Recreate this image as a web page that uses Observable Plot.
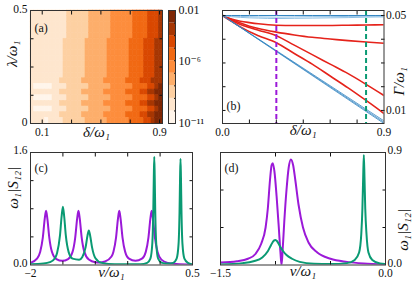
<!DOCTYPE html>
<html><head><meta charset="utf-8">
<script src="https://cdn.jsdelivr.net/npm/d3@7"></script>
<script src="https://cdn.jsdelivr.net/npm/@observablehq/plot@0.6"></script>
<style>
body{margin:0;background:#fff}
#fig{position:relative;width:415px;height:291px;overflow:hidden;background:#fff}
#fig svg{position:absolute;left:0;top:0}
</style></head><body><div id="fig"></div><script>
// ---------- DATA ----------
// (a) heatmap: level index per cell (0 = lightest), rows from lambda=0.5 (top) down to 0
const heatDeltaRange = [0.02, 0.92];
const heatLambdaRange = [0, 0.5];
const heatRows = [
"111111111122222233333344444455556667",
"111111111122222233333344444455556667",
"111111111122222233333344444455556667",
"111111111122222233333344444455556667",
"111111111122222233333344444455556667",
"111111111222222333333444444555566677",
"111111111222222333333444444555566677",
"111111111222222333333444444555566677",
"111111111222222333333444444555566677",
"111111111222222333333444444555566677",
"111111111222222333333444444555566677",
"111111111222222333333444444555566677",
"111111112222223333334444445555666777",
"100000111122222233333344444455556678",
"111111112222223333334444445555667788",
"100000111122222233333344444455556678",
"111111112222223333334444445555667788",
"100000111122222233333344444455556678",
"111111112222223333334444445555667788",
"111101111222222333333444444555566788"
];
const levelColors = ["#fff5eb","#fee6ce","#fdd0a2","#fdae6b","#fd8d3c","#f16913","#d94801","#a63603","#7f2704"];
const levelExponents = [-11,-10,-9,-8,-7,-6,-5,-4,-3]; // lower edge of each level band
const cbarLabels = [{v:1e-2,t:"0.01"},{v:1e-6,t:"10⁻⁶"},{v:1e-11,t:"10⁻¹¹"}];

// (b) decay rates
const bDelta = [0,0.05,0.1,0.15,0.2,0.3,0.4,0.5,0.6,0.7,0.8,0.9];
const bRed1 = [0.05,0.0485,0.0476,0.047,0.0465,0.0459,0.0458,0.0458,0.0458,0.0459,0.046,0.0461];
const bRed2 = [0.05,0.0483,0.0468,0.0455,0.0445,0.043,0.0418,0.0408,0.0401,0.0394,0.0388,0.0383];
const bRed3 = [0.05,0.048,0.0462,0.0449,0.0438,0.0415,0.0375,0.0335,0.0295,0.0255,0.021,0.0163];
const bRed4 = [0.05,0.0475,0.0452,0.0432,0.0415,0.0385,0.034,0.0295,0.0245,0.0195,0.0142,0.0087];
const bBlueTop1 = [0.05,0.05,0.05,0.05,0.05,0.05,0.05,0.05,0.05,0.05,0.05,0.05];
const bBlueTop2 = [0.05,0.0495,0.0492,0.049,0.0489,0.0487,0.0488,0.0489,0.049,0.0491,0.0493,0.0494];
const bBlueTop3 = [0.05,0.0497,0.0496,0.0495,0.0494,0.0493,0.0494,0.0495,0.0495,0.0496,0.0497,0.0497];
const bBlueDiagEnds = [[0.05,0.0045],[0.05,0.0050],[0.05,0.0056]];
const bMarkers = [{x:0.3,c:"#9b19d8"},{x:0.8,c:"#0a9a73"}];

// (c) spectra
const cPurple = [[-2.0,0.03],[-1.9,0.09],[-1.85,0.19],[-1.81,0.39],[-1.78,0.66],[-1.76,0.77],[-1.74,0.66],[-1.71,0.39],[-1.67,0.19],[-1.6,0.085],[-1.51,0.06],[-1.42,0.085],[-1.35,0.19],[-1.31,0.39],[-1.28,0.66],[-1.26,0.77],[-1.24,0.66],[-1.21,0.39],[-1.17,0.19],[-1.1,0.077],[-1.0,0.04],[-0.94,0.037],[-0.85,0.05],[-0.75,0.12],[-0.72,0.19],[-0.68,0.39],[-0.65,0.66],[-0.63,0.77],[-0.61,0.66],[-0.58,0.39],[-0.54,0.19],[-0.48,0.09],[-0.38,0.06],[-0.28,0.09],[-0.22,0.19],[-0.18,0.39],[-0.15,0.66],[-0.13,0.77],[-0.11,0.66],[-0.08,0.39],[-0.04,0.19],[0.02,0.076],[0.12,0.029],[0.25,0.013],[0.5,0.005]];
const cGreen = [[-2.0,0.01],[-1.8,0.02],[-1.7,0.04],[-1.62,0.1],[-1.59,0.17],[-1.545,0.42],[-1.52,0.69],[-1.5,0.83],[-1.48,0.69],[-1.455,0.42],[-1.41,0.18],[-1.35,0.09],[-1.25,0.075],[-1.2,0.115],[-1.15,0.25],[-1.12,0.42],[-1.1,0.49],[-1.08,0.42],[-1.05,0.25],[-1.0,0.1],[-0.9,0.03],[-0.7,0.01],[-0.5,0.01],[-0.3,0.01],[-0.2,0.03],[-0.15,0.09],[-0.12,0.31],[-0.105,0.77],[-0.097,1.26],[-0.09,1.54],[-0.083,1.26],[-0.075,0.77],[-0.06,0.31],[-0.03,0.09],[0.03,0.03],[0.12,0.02],[0.2,0.03],[0.255,0.09],[0.285,0.3],[0.3,0.76],[0.308,1.24],[0.315,1.51],[0.322,1.24],[0.33,0.76],[0.345,0.3],[0.375,0.09],[0.43,0.03],[0.5,0.01]];

// (d) spectra
const dPurple = [[-1.5,0.02],[-1.35,0.03],[-1.25,0.05],[-1.18,0.09],[-1.13,0.17],[-1.09,0.3],[-1.07,0.45],[-1.05,0.68],[-1.035,0.8],[-1.025,0.815],[-1.01,0.75],[-0.99,0.55],[-0.97,0.3],[-0.955,0.1],[-0.945,0.0],[-0.935,0.12],[-0.92,0.35],[-0.9,0.6],[-0.88,0.78],[-0.86,0.845],[-0.84,0.8],[-0.82,0.68],[-0.79,0.48],[-0.75,0.3],[-0.7,0.18],[-0.62,0.1],[-0.5,0.05],[-0.35,0.025],[-0.2,0.012],[0,0.005]];
const dGreen = [[-1.5,0.005],[-1.3,0.015],[-1.2,0.03],[-1.12,0.06],[-1.07,0.11],[-1.04,0.16],[-1.015,0.195],[-1.0,0.2],[-0.985,0.19],[-0.96,0.15],[-0.93,0.11],[-0.9,0.08],[-0.85,0.05],[-0.78,0.025],[-0.65,0.01],[-0.5,0.008],[-0.35,0.015],[-0.28,0.04],[-0.24,0.1],[-0.22,0.25],[-0.21,0.45],[-0.203,0.7],[-0.197,0.88],[-0.191,0.7],[-0.184,0.45],[-0.173,0.25],[-0.155,0.1],[-0.12,0.04],[-0.05,0.012],[0,0.008]];

// ---------- DRAWING ----------
const W = 415, H = 291;
const FONT = "'Liberation Serif','DejaVu Serif',serif";
const PURPLE = "#9b19d8", GREEN = "#0a9a73", RED = "#e5231b", BLUE = "#3385c2", LBLUE = "#8fc0e4";
const fig = document.getElementById("fig");

function panel(box, opts) {
  const svg = Plot.plot({
    width: W, height: H,
    marginLeft: box[0], marginRight: W - box[1], marginTop: box[2], marginBottom: H - box[3],
    style: {background: "transparent", fontFamily: FONT, fontSize: "11.5px", color: "#111", overflow: "visible"},
    ...opts
  });
  fig.appendChild(svg);
}
const TS = -3.5;
function ticksX(vals) {
  return [Plot.axisX(vals, {anchor: "bottom", tickSize: TS, tickFormat: () => "", label: null}),
          Plot.axisX(vals, {anchor: "top", tickSize: TS, tickFormat: () => "", label: null})];
}
function ticksY(vals) {
  return [Plot.axisY(vals, {anchor: "left", tickSize: TS, tickFormat: () => "", label: null}),
          Plot.axisY(vals, {anchor: "right", tickSize: TS, tickFormat: () => "", label: null})];
}
const txt = (s, o) => Plot.text([s], {fontFamily: FONT, fill: "#111", ...o});

// (a) heatmap
const nCols = heatRows[0].length, nRows = heatRows.length;
const dx = (heatDeltaRange[1] - heatDeltaRange[0]) / nCols;
const dy = (heatLambdaRange[1] - heatLambdaRange[0]) / nRows;
const cells = [];
heatRows.forEach((row, r) => [...row].forEach((ch, c) => cells.push({
  x1: heatDeltaRange[0] + c * dx, x2: heatDeltaRange[0] + (c + 1) * dx,
  y1: heatLambdaRange[1] - (r + 1) * dy, y2: heatLambdaRange[1] - r * dy, level: +ch
})));
panel([30, 162, 10, 123], {
  x: {domain: heatDeltaRange},
  y: {domain: heatLambdaRange},
  color: {type: "ordinal", domain: d3.range(levelColors.length), range: levelColors},
  marks: [
    Plot.rect(cells, {x1: "x1", x2: "x2", y1: "y1", y2: "y2", fill: "level", stroke: "level", strokeWidth: 0.6}),
    ...ticksX([0.1, 0.3, 0.5, 0.7, 0.9]),
    ...ticksY([0.125, 0.25, 0.375]),
    Plot.axisX([0.1, 0.9], {anchor: "bottom", tickSize: 0, tickPadding: 4, tickFormat: d => d.toFixed(1), label: null}),
    Plot.axisY([0, 0.5], {anchor: "left", tickSize: 0, tickPadding: 3, dy: -1.5, tickFormat: d => d === 0 ? "0" : "0.5", label: null}),
    Plot.frame({stroke: "#333"}),
    txt("(a)", {frameAnchor: "top-left", dx: 4, dy: 13, textAnchor: "start", fontSize: 12}),
    txt("δ/ω₁", {frameAnchor: "bottom", dy: 13, fontSize: 15, fontStyle: "italic"}),
    txt("λ/ω₁", {frameAnchor: "left", dx: -18, rotate: -90, fontSize: 15, fontStyle: "italic"})
  ]
});

// colorbar
panel([168, 175, 10, 123], {
  x: {domain: [0, 1], axis: null},
  y: {type: "log", domain: [1e-11, 1e-2], axis: null},
  color: {type: "ordinal", domain: d3.range(levelColors.length), range: levelColors},
  marks: [
    Plot.rect(levelExponents.map((e, i) => ({lo: 10 ** e, hi: 10 ** (e + 1), level: i})),
      {x1: 0, x2: 1, y1: "lo", y2: "hi", fill: "level"}),
    Plot.axisY(levelExponents.slice(1).map(e => 10 ** e), {anchor: "right", tickSize: -2, tickFormat: () => "", label: null}),
    Plot.frame({stroke: "#333"}),
    Plot.text(cbarLabels, {y: "v", text: "t", frameAnchor: "right", dx: 3, textAnchor: "start", fontFamily: FONT, fontSize: 12, fill: "#111"})
  ]
});

// (b) decay rates
const bLines = [];
[[bRed1, RED], [bRed2, RED], [bRed3, RED], [bRed4, RED]].forEach(([ys, c], k) =>
  ys.forEach((y, i) => bLines.push({x: bDelta[i], y, k: "r" + k, c, w: 1.6})));
[[bBlueTop3, LBLUE], [bBlueTop2, LBLUE], [bBlueTop1, BLUE]].forEach(([ys, c], k) =>
  ys.forEach((y, i) => bLines.push({x: bDelta[i], y, k: "bt" + k, c, w: 1})));
bBlueDiagEnds.forEach(([y0, y1], k) => {
  bLines.push({x: bDelta[0], y: y0, k: "bd" + k, c: BLUE, w: 0.8});
  bLines.push({x: bDelta[bDelta.length - 1], y: y1, k: "bd" + k, c: BLUE, w: 0.8});
});
panel([222, 383.5, 10, 123], {
  x: {domain: [0, 0.9]},
  y: {domain: [0.0045, 0.0521]},
  marks: [
    Plot.line(bLines, {x: "x", y: "y", z: "k", stroke: "c", strokeWidth: "w", curve: "monotone-x", clip: true}),
    Plot.ruleX(bMarkers, {x: "x", stroke: "c", strokeWidth: 2, strokeDasharray: "5,3"}),
    ...ticksX([0.15, 0.3, 0.45, 0.6, 0.75]),
    ...ticksY([0.01, 0.02, 0.03, 0.04, 0.05]),
    Plot.axisX([0, 0.9], {anchor: "bottom", tickSize: 0, tickPadding: 4, tickFormat: d => d.toFixed(1), label: null}),
    Plot.axisY([0.01, 0.05], {anchor: "right", tickSize: 0, tickPadding: 2, tickFormat: d => d.toFixed(2), label: null}),
    Plot.frame({stroke: "#333"}),
    txt("(b)", {frameAnchor: "bottom-left", dx: 4, dy: -14, textAnchor: "start", fontSize: 12}),
    txt("δ/ω₁", {frameAnchor: "bottom", dy: 11, fontSize: 15, fontStyle: "italic"}),
    txt("Γ/ω₁", {frameAnchor: "right", dx: 15, rotate: -90, fontSize: 15, fontStyle: "italic"})
  ]
});

// (c)
panel([30, 192, 152, 264.5], {
  x: {domain: [-2, 0.5]},
  y: {domain: [0, 1.6]},
  marks: [
    Plot.line(cPurple, {x: d => d[0], y: d => d[1], stroke: PURPLE, strokeWidth: 2, curve: "monotone-x", clip: true}),
    Plot.line(cGreen, {x: d => d[0], y: d => d[1], stroke: GREEN, strokeWidth: 2, curve: "monotone-x", clip: true}),
    ...ticksX([-1.5, -1, -0.5, 0]),
    ...ticksY([0.4, 0.8, 1.2]),
    Plot.axisX([-2, 0.5], {anchor: "bottom", tickSize: 0, tickPadding: 4, tickFormat: d => d === -2 ? "−2" : "0.5", label: null}),
    Plot.axisY([0, 1.6], {anchor: "left", tickSize: 0, tickPadding: 3, dy: -2, tickFormat: d => d.toFixed(1), label: null}),
    Plot.frame({stroke: "#333"}),
    txt("(c)", {frameAnchor: "top-left", dx: 4, dy: 11, textAnchor: "start", fontSize: 12}),
    txt("ν/ω₁", {frameAnchor: "bottom", dy: 12, fontSize: 15, fontStyle: "italic"}),
    txt("ω₁|S₁₂|", {frameAnchor: "left", dx: -17, rotate: -90, fontSize: 15, fontStyle: "italic"})
  ]
});

// (d)
panel([220, 385, 152, 264.5], {
  x: {domain: [-1.5, 0]},
  y: {domain: [0, 0.9]},
  marks: [
    Plot.line(dPurple, {x: d => d[0], y: d => d[1], stroke: PURPLE, strokeWidth: 2, curve: "monotone-x", clip: true}),
    Plot.line(dGreen, {x: d => d[0], y: d => d[1], stroke: GREEN, strokeWidth: 2, curve: "monotone-x", clip: true}),
    ...ticksX([-1, -0.5]),
    ...ticksY([0.3, 0.6]),
    Plot.axisX([-1.5, 0], {anchor: "bottom", tickSize: 0, tickPadding: 4, tickFormat: d => d === 0 ? "0.0" : "−1.5", label: null}),
    Plot.axisY([0, 0.9], {anchor: "right", tickSize: 0, tickPadding: 2, dy: -2, tickFormat: d => d.toFixed(1), label: null}),
    Plot.frame({stroke: "#333"}),
    txt("(d)", {frameAnchor: "top-left", dx: 4, dy: 11, textAnchor: "start", fontSize: 12}),
    txt("ν/ω₁", {frameAnchor: "bottom", dy: 11, fontSize: 15, fontStyle: "italic"}),
    txt("ω₁|S₁₂|", {frameAnchor: "right", dx: 18, rotate: -90, fontSize: 15, fontStyle: "italic"})
  ]
});
</script></body></html>
